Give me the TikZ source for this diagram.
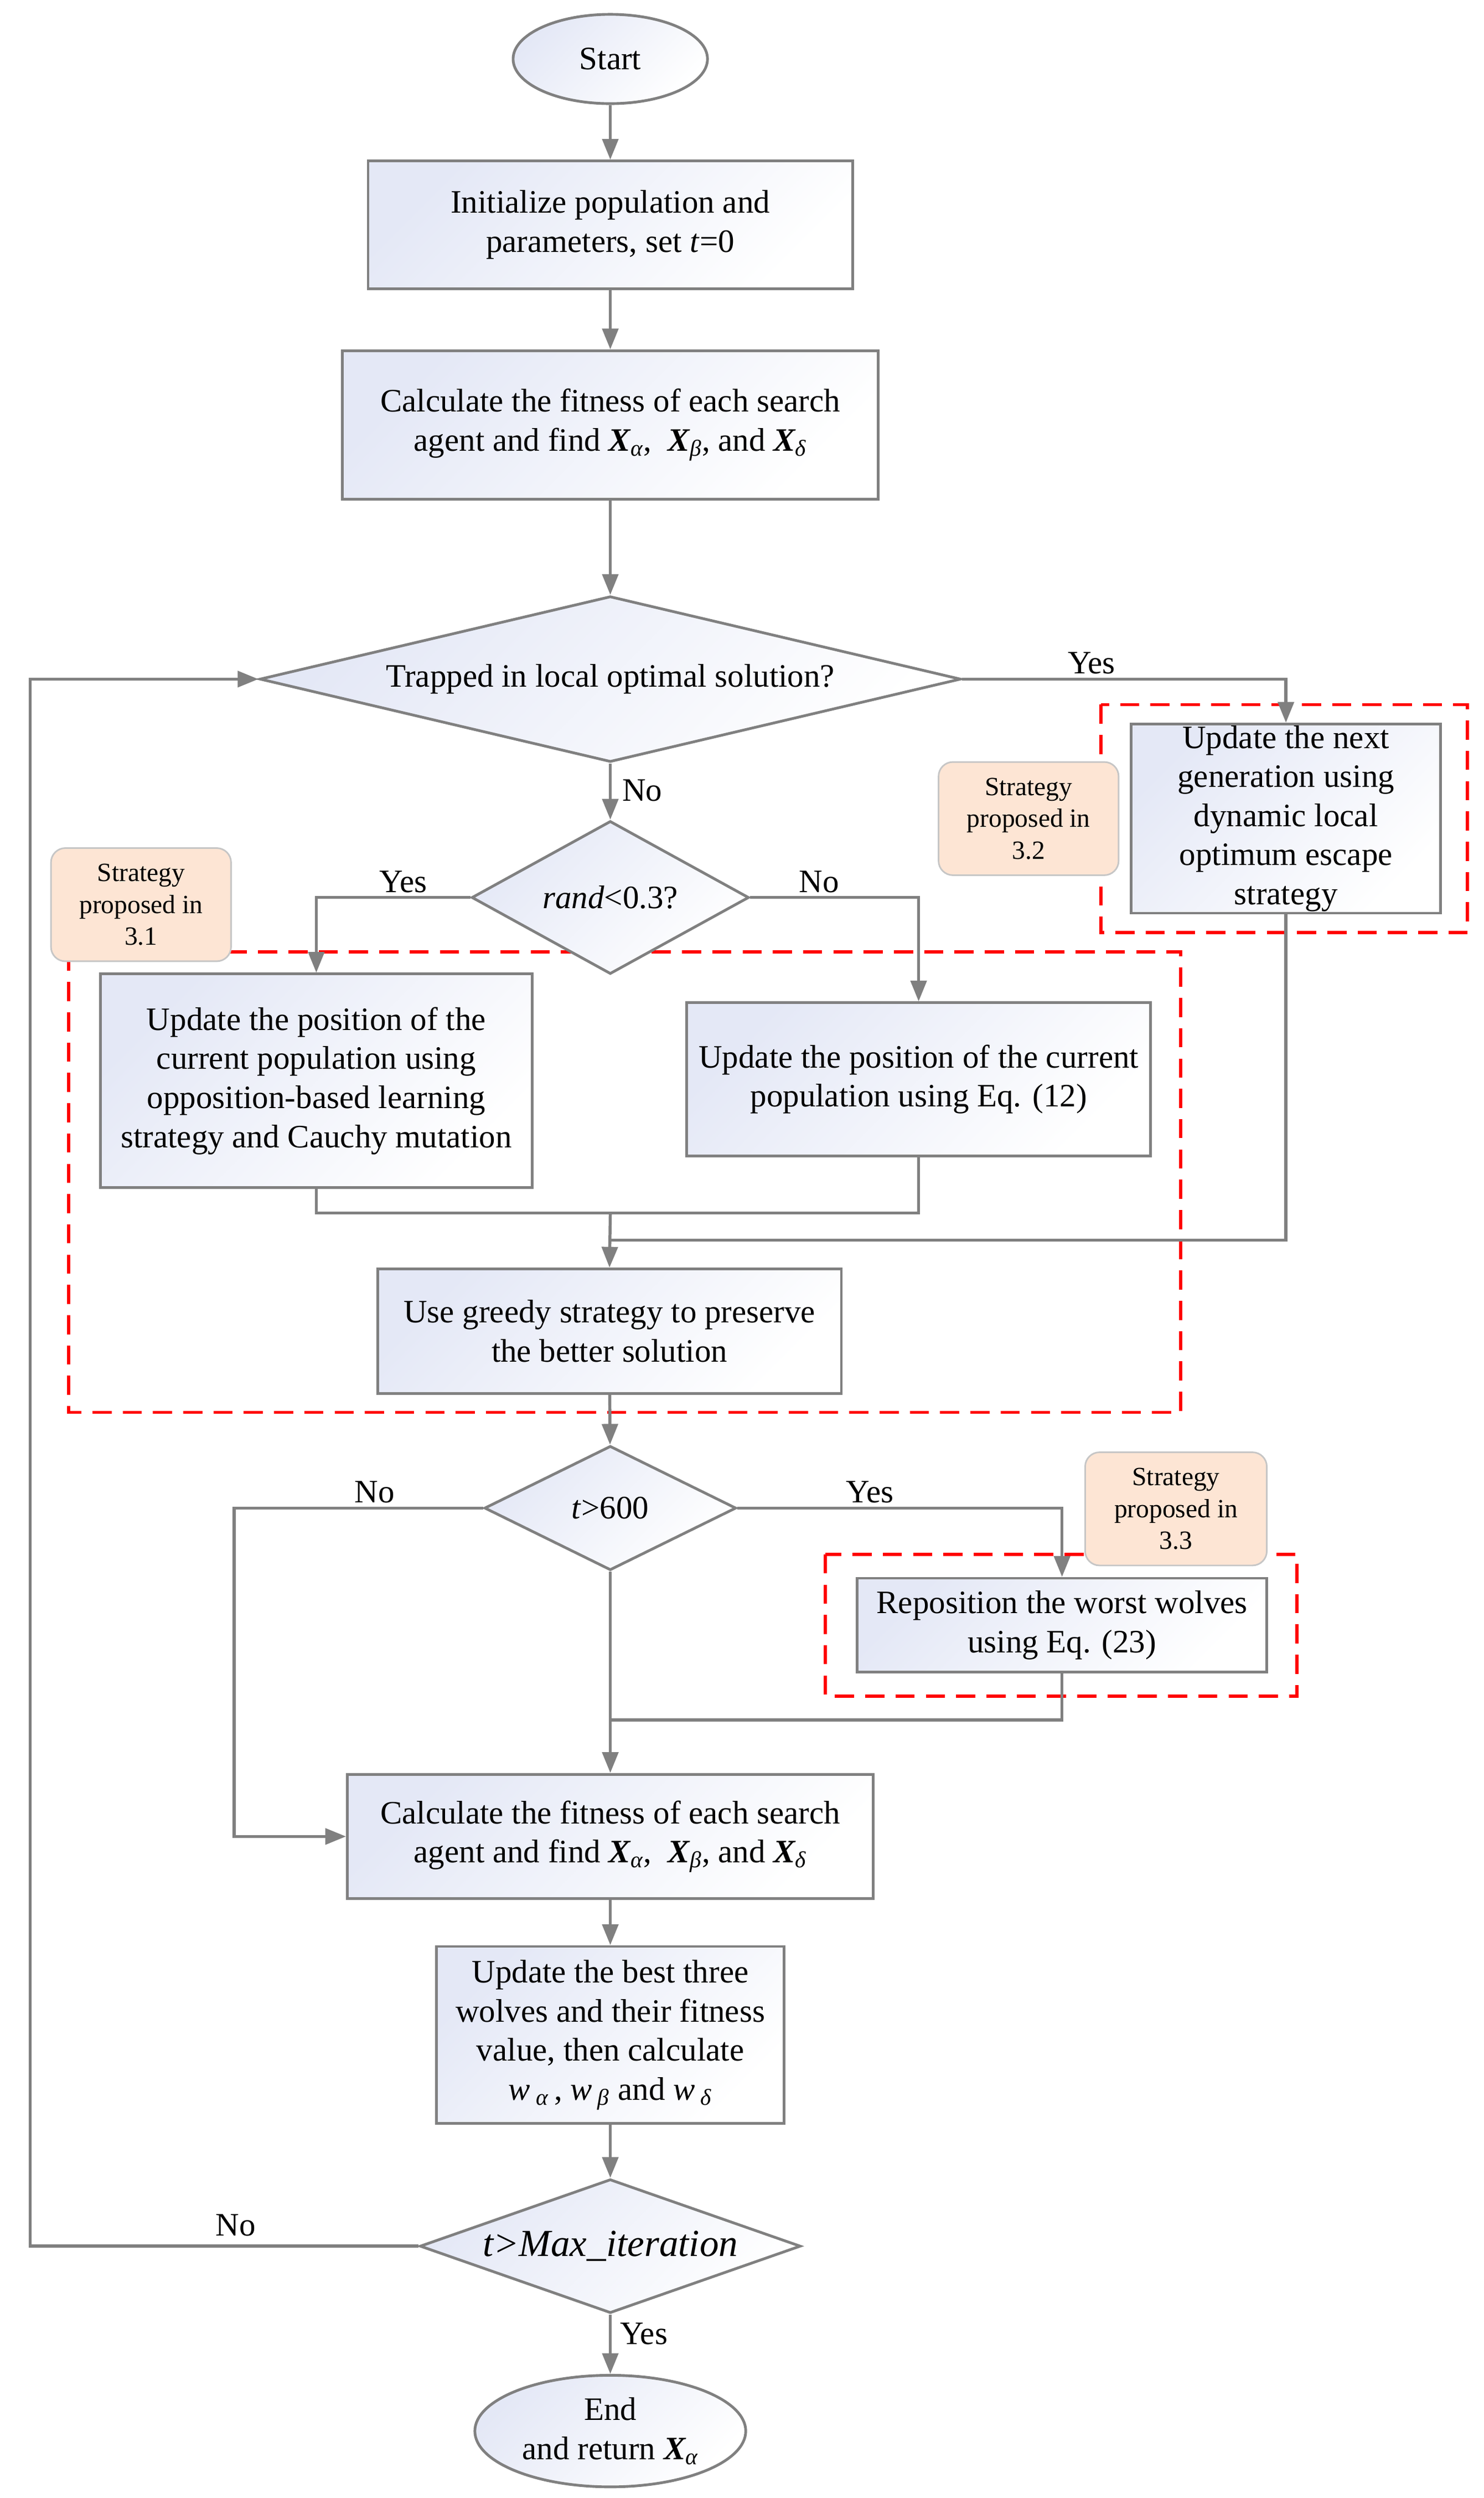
\documentclass[tikz,border=0pt]{standalone}
\usepackage{fontspec}
\setmainfont{Liberation Serif}
\usetikzlibrary{shapes.geometric,arrows.meta}
\definecolor{linegray}{HTML}{808080}
\definecolor{boxtint}{HTML}{E4E8F6}
\definecolor{notefill}{HTML}{FDE5D4}
\definecolor{noteline}{HTML}{C6C6C6}
\newcommand{\Xv}[1]{{\bfseries\itshape X}\textsubscript{\itshape #1}}
\newcommand{\wv}[1]{\textit{w}\,\textsubscript{\itshape #1}}

\begin{document}
\begin{tikzpicture}[
		x=1pt, y=-1pt,
		font=\fontsize{20.5}{24.5}\selectfont,
		shaded/.style={draw=linegray, line width=1.7pt, top color=boxtint, bottom color=white, shading angle=45},
		procbox/.style={shaded, rectangle, align=center, inner xsep=3pt, inner ysep=1pt},
		termbox/.style={shaded, ellipse, align=center, inner sep=0pt},
		decbox/.style={shaded, diamond, align=center, inner sep=0pt},
		notebox/.style={rectangle, rounded corners=9pt, draw=noteline, line width=1pt, fill=notefill, align=center, font=\fontsize{16.5}{20}\selectfont},
		region/.style={draw=red, line width=2pt, dash pattern=on 12pt off 7pt},
		conn/.style={draw=linegray, line width=1.9pt},
		arr/.style={conn, -{Triangle[length=13pt,width=10pt]}},
		tag/.style={inner sep=0pt}
	]
	\useasboundingbox (0,0) rectangle (931,1567);

	% strategy regions
	\draw[region] (43,597) rectangle (741,886);
	\draw[region] (691,442) rectangle (921,585);
	\draw[region] (518,975) rectangle (814,1064);

	% main column
	\node[termbox, minimum width=122pt, minimum height=56pt] (start) at (383,37) {Start};
	\node[procbox, minimum width=304pt, minimum height=80pt] (init) at (383,141) {Initialize population and\\parameters, set \textit{t}=0};
	\node[procbox, minimum width=336pt, minimum height=93pt] (calc1) at (383,266.5) {Calculate the fitness of each search\\agent and find \Xv{α},~ \Xv{β}, and \Xv{δ}};
	\node[decbox, aspect=4.23, minimum width=440pt, minimum height=104pt] (trap) at (383,426) {Trapped in local optimal solution?};
	\node[procbox, minimum width=194pt, minimum height=115pt] (next) at (807,513.5) {Update the next\\generation using\\dynamic local\\optimum escape\\strategy};
	\node[decbox, aspect=1.81, minimum width=174pt, minimum height=96pt] (rand) at (383,563) {\textit{rand}<0.3?};
	\node[procbox, minimum width=271pt, minimum height=134pt] (obl) at (198.5,678) {Update the position of the\\current population using\\opposition-based learning\\strategy and Cauchy mutation};
	\node[procbox, minimum width=291pt, minimum height=96pt] (eq12) at (576.5,677) {Update the position of the current\\population using Eq. (12)};
	\node[procbox, minimum width=291pt, minimum height=78pt] (greedy) at (382.5,835) {Use greedy strategy to preserve\\the better solution};
	\node[decbox, aspect=2.03, minimum width=158pt, minimum height=78pt] (t600) at (383,946) {\textit{t}>600};
	\node[procbox, minimum width=257pt, minimum height=59pt] (repos) at (666.5,1019.5) {Reposition the worst wolves\\using Eq. (23)};
	\node[procbox, minimum width=330pt, minimum height=78pt] (calc2) at (383,1152) {Calculate the fitness of each search\\agent and find \Xv{α},~ \Xv{β}, and \Xv{δ}};
	\node[procbox, minimum width=218pt, minimum height=111pt] (best) at (383,1276.5) {Update the best three\\wolves and their fitness\\value, then calculate\\\wv{α}\,, \wv{β} and \wv{δ}};
	\node[decbox, aspect=2.85, minimum width=239pt, minimum height=84pt, font=\fontsize{24}{28}\selectfont] (maxit) at (383,1409) {\textit{t>Max\_iteration}};
	\node[termbox, minimum width=170pt, minimum height=70pt] (end) at (383,1525) {End\\and return \Xv{α}};

	% notes
	\node[notebox, minimum width=113pt, minimum height=71pt] (note1) at (88.5,567.5) {Strategy\\proposed in\\3.1};
	\node[notebox, minimum width=113pt, minimum height=71pt] (note2) at (645.5,513.5) {Strategy\\proposed in\\3.2};
	\node[notebox, minimum width=114pt, minimum height=71pt] (note3) at (738,946.5) {Strategy\\proposed in\\3.3};

	% junctions
	\coordinate (m1) at (383,761);
	\coordinate (m2) at (383,778);
	\coordinate (m3) at (383,1079);
	\coordinate (lft) at (147,946);
	\coordinate (back) at (19,1409);

	% connectors
	\draw[arr] (start) -- (init);
	\draw[arr] (init) -- (calc1);
	\draw[arr] (calc1) -- (trap);
	\draw[arr] (trap.east) -| (next.north);
	\draw[arr] (trap.south) -- (rand.north);
	\draw[arr] (rand.west) -| (obl.north);
	\draw[arr] (rand.east) -| (eq12.north);
	\draw[conn] (obl.south) |- (m1) -| (eq12.south);
	\draw[conn] (next.south) |- (m2);
	\draw[arr] (m1) -- (greedy.north);
	\draw[arr] (greedy) -- (t600);
	\draw[arr] (t600.west) -- (lft) |- (calc2.west);
	\draw[arr] (t600.east) -| (repos.north);
	\draw[conn] (repos.south) |- (m3);
	\draw[arr] (t600.south) -- (calc2.north);
	\draw[arr] (calc2) -- (best);
	\draw[arr] (best) -- (maxit);
	\draw[arr] (maxit) -- (end);
	\draw[arr] (maxit.west) -- (back) |- (trap.west);

	% branch labels
	\node[tag] (yes1) at (685,416) {Yes};
	\node[tag] (no1) at (403,496) {No};
	\node[tag] (yes2) at (253,553) {Yes};
	\node[tag] (no2) at (514,553) {No};
	\node[tag] (no3) at (235,936) {No};
	\node[tag] (yes3) at (546,936) {Yes};
	\node[tag] (no4) at (148,1396) {No};
	\node[tag] (yes4) at (404,1464) {Yes};
\end{tikzpicture}
\end{document}
